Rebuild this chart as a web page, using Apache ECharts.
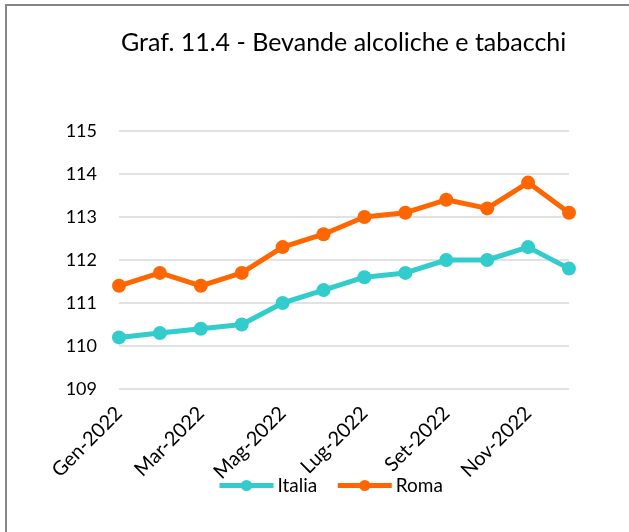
<!DOCTYPE html>
<html>
<head>
<meta charset="utf-8">
<script src="https://cdn.jsdelivr.net/npm/echarts@6/dist/echarts.min.js"></script>
<style>
  html, body { margin: 0; padding: 0; background: #fff; }
  #chart { width: 629px; height: 532px; }
</style>
</head>
<body>
<div id="chart"></div>
<script>
// dati
const mesi = ['Gen-2022', 'Feb-2022', 'Mar-2022', 'Apr-2022', 'Mag-2022', 'Giu-2022',
  'Lug-2022', 'Ago-2022', 'Set-2022', 'Ott-2022', 'Nov-2022', 'Dic-2022'];
const italia = [110.2, 110.3, 110.4, 110.5, 111.0, 111.3, 111.6, 111.7, 112.0, 112.0, 112.3, 111.8];
const roma = [111.4, 111.7, 111.4, 111.7, 112.3, 112.6, 113.0, 113.1, 113.4, 113.2, 113.8, 113.1];

const font = 'Lato, "Open Sans", sans-serif';
const mychart = echarts.init(document.getElementById('chart'));

const serie = (name, data, color) => ({
  name: name,
  type: 'line',
  data: data,
  symbol: 'circle',
  symbolSize: 14,
  itemStyle: { color: color },
  lineStyle: { color: color, width: 5 },
  emphasis: { disabled: true }
});

const option = {
  animation: false,
  textStyle: { fontFamily: font },
  graphic: [{
    type: 'rect',
    shape: { x: 6, y: 5, width: 800, height: 800 },
    style: { fill: 'none', stroke: '#868686', lineWidth: 2 },
    silent: true
  }],
  title: {
    text: 'Graf. 11.4 - Bevande alcoliche e tabacchi',
    left: 116,
    top: 25,
    textStyle: { fontFamily: font, fontSize: 25, fontWeight: 'normal', color: '#000' }
  },
  legend: {
    data: ['Italia', 'Roma'],
    left: 212,
    top: 471,
    itemWidth: 54,
    itemHeight: 14,
    itemGap: 18,
    lineStyle: { width: 5 },
    textStyle: { fontFamily: font, fontSize: 19, color: '#000', padding: [0, 0, 0, -1] }
  },
  grid: { left: 119, right: 60, top: 131, bottom: 143 },
  xAxis: {
    type: 'category',
    data: mesi,
    boundaryGap: false,
    axisLine: { show: false },
    axisTick: { show: false },
    axisLabel: {
      interval: 1,
      rotate: 45,
      margin: 21,
      fontFamily: font,
      fontSize: 20,
      color: '#000'
    }
  },
  yAxis: {
    type: 'value',
    min: 109,
    max: 115,
    interval: 1,
    axisLabel: { fontFamily: font, fontSize: 18, color: '#000', margin: 22 },
    splitLine: { lineStyle: { color: '#d9d9d9', width: 1.5 } }
  },
  series: [
    serie('Italia', italia, '#33CCCC'),
    serie('Roma', roma, '#FF6600')
  ]
};
mychart.setOption(option);
</script>
</body>
</html>
